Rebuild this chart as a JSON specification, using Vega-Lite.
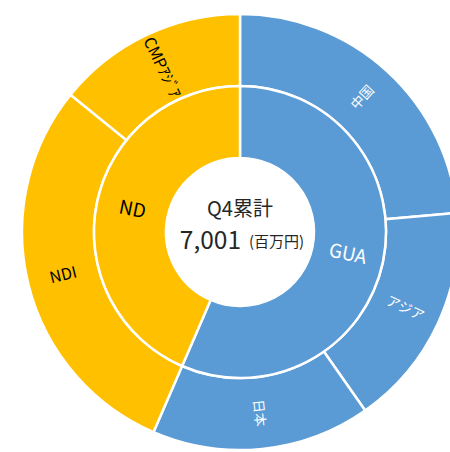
{
  "$schema": "https://vega.github.io/schema/vega-lite/v6.json",
  "width": 420,
  "height": 440,
  "autosize": "none",
  "padding": {"left": 30, "top": 12, "right": 0, "bottom": 0},
  "background": "white",
  "config": {"view": {"stroke": null}, "font": "Noto Sans CJK JP"},
  "resolve": {"scale": {"theta": "independent"}},
  "datasets": {
    "inner": [
      {"name": "GUA", "group": "GUA", "value": 3955, "order": 1},
      {"name": "ND", "group": "ND", "value": 3046, "order": 2}
    ],
    "outer": [
      {"name": "中国", "group": "GUA", "value": 1652, "order": 1},
      {"name": "アジア", "group": "GUA", "value": 1167, "order": 2},
      {"name": "日本", "group": "GUA", "value": 1136, "order": 3},
      {"name": "NDI", "group": "ND", "value": 2054, "order": 4},
      {"name": "CMPｱｼﾞｱ", "group": "ND", "value": 992, "order": 5}
    ],
    "center": [
      {"title": "Q4累計", "total": "7,001", "unit": "(百万円)"}
    ]
  },
  "layer": [
    {
      "data": {"name": "outer"},
      "mark": {"type": "arc", "radius": 218, "radius2": 146, "stroke": "white", "strokeWidth": 2.5},
      "encoding": {
        "theta": {"field": "value", "type": "quantitative", "stack": true},
        "order": {"field": "order", "type": "quantitative"},
        "color": {"field": "group", "type": "nominal", "scale": {"domain": ["GUA", "ND"], "range": ["#5B9BD5", "#FFC000"]}, "legend": null}
      }
    },
    {
      "data": {"name": "inner"},
      "mark": {"type": "arc", "radius": 146, "radius2": 74, "stroke": "white", "strokeWidth": 2.5},
      "encoding": {
        "theta": {"field": "value", "type": "quantitative", "stack": true},
        "order": {"field": "order", "type": "quantitative"},
        "color": {"field": "group", "type": "nominal", "scale": {"domain": ["GUA", "ND"], "range": ["#5B9BD5", "#FFC000"]}, "legend": null}
      }
    },
    {
      "data": {"name": "outer"},
      "transform": [
        {"joinaggregate": [{"op": "sum", "field": "value", "as": "total"}]},
        {"stack": "value", "groupby": [], "sort": [{"field": "order"}], "as": ["v0", "v1"]},
        {"calculate": "(datum.v0 + datum.v1) / 2 / datum.total * 360", "as": "mid"},
        {"calculate": "datum.mid < 180 ? datum.mid - 90 : datum.mid - 270", "as": "rot"}
      ],
      "mark": {"type": "text", "radius": 182, "align": "center", "baseline": "middle"},
      "encoding": {
        "theta": {"field": "mid", "type": "quantitative", "scale": {"domain": [0, 360], "range": [0, 6.283185307]}},
        "angle": {"field": "rot", "type": "quantitative", "scale": null},
        "text": {"field": "name"},
        "size": {"condition": {"test": "datum.group == 'ND'", "value": 16}, "value": 13.5},
        "color": {"condition": {"test": "datum.group == 'GUA'", "value": "white"}, "value": "black"}
      }
    },
    {
      "data": {"name": "inner"},
      "transform": [
        {"joinaggregate": [{"op": "sum", "field": "value", "as": "total"}]},
        {"stack": "value", "groupby": [], "sort": [{"field": "order"}], "as": ["v0", "v1"]},
        {"calculate": "(datum.v0 + datum.v1) / 2 / datum.total * 360", "as": "mid"},
        {"calculate": "datum.mid < 180 ? datum.mid - 90 : datum.mid - 270", "as": "rot"}
      ],
      "mark": {"type": "text", "radius": 110, "fontSize": 19, "align": "center", "baseline": "middle"},
      "encoding": {
        "theta": {"field": "mid", "type": "quantitative", "scale": {"domain": [0, 360], "range": [0, 6.283185307]}},
        "angle": {"field": "rot", "type": "quantitative", "scale": null},
        "text": {"field": "name"},
        "color": {"condition": {"test": "datum.group == 'GUA'", "value": "white"}, "value": "black"}
      }
    },
    {
      "data": {"name": "center"},
      "mark": {"type": "text", "fontSize": 20, "align": "center", "baseline": "alphabetic", "dy": -16, "color": "#262626"},
      "encoding": {"text": {"field": "title"}}
    },
    {
      "data": {"name": "center"},
      "mark": {"type": "text", "fontSize": 24.5, "align": "right", "baseline": "alphabetic", "dx": 1, "dy": 17, "color": "#262626"},
      "encoding": {"text": {"field": "total"}}
    },
    {
      "data": {"name": "center"},
      "mark": {"type": "text", "fontSize": 15, "align": "left", "baseline": "alphabetic", "dx": 9, "dy": 15, "color": "#262626"},
      "encoding": {"text": {"field": "unit"}}
    }
  ]
}
